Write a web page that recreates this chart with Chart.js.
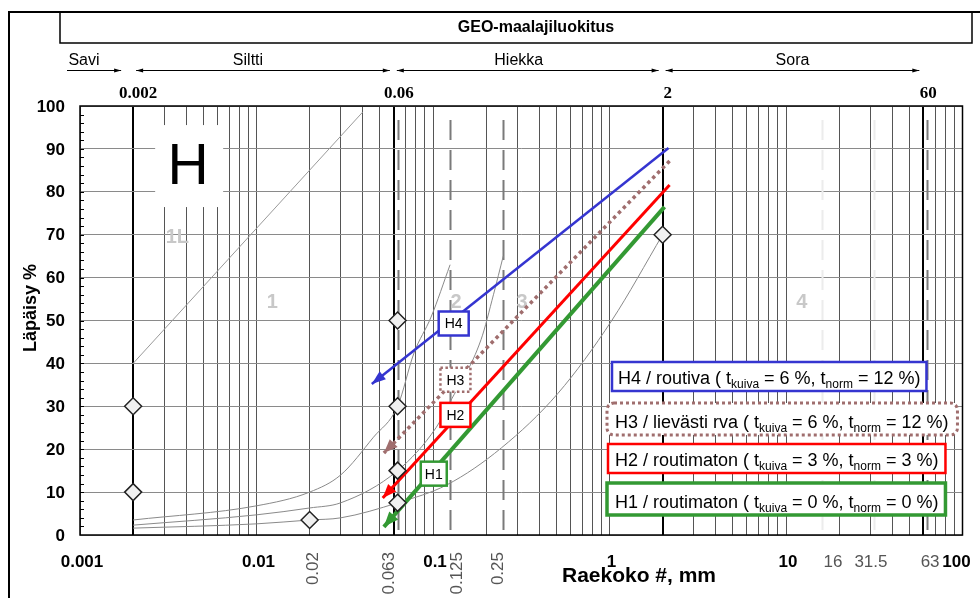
<!DOCTYPE html>
<html>
<head>
<meta charset="utf-8">
<script src="https://cdn.jsdelivr.net/npm/chart.js@4"></script>
<style>
  html, body { margin: 0; padding: 0; background: #fff; }
  canvas { display: block; }
</style>
</head>
<body>
<canvas id="chart" width="980" height="598"></canvas>
<script>
// ---- DATA ----
const decadeLabels = [0.001, 0.01, 0.1, 1, 10, 100];
const sieveLabels = [16, 31.5, 63];
const sieveRotated = [0.02, 0.063, 0.125, 0.25];
const sieveDashed = [0.063, 0.125, 0.25, 16, 31.5, 63];
const boundaryValues = [0.002, 0.06, 2, 60];
const zoneNames = ["Savi", "Siltti", "Hiekka", "Sora"];
const yTickValues = [0, 10, 20, 30, 40, 50, 60, 70, 80, 90, 100];

// thin grey boundary curves  [mm, %]
const curve1L = [[0.002, 40], [0.04, 98.6]];
const curveUpper = [[0.002, 3.5], [0.01, 6.8], [0.02, 10], [0.03, 14], [0.046, 22.8], [0.063, 30], [0.078, 42.4], [0.0975, 50.8], [0.125, 63]];
const curveMiddle = [[0.002, 2.3], [0.01, 4.7], [0.02, 6.3], [0.03, 7.5], [0.063, 15], [0.104, 25], [0.125, 31], [0.187, 45.5], [0.22, 56], [0.25, 65]];
const curveLower = [[0.002, 1.6], [0.01, 2.6], [0.02, 3.5], [0.03, 4.0], [0.063, 7.5], [0.12, 11.7], [0.244, 20.3], [0.51, 33], [1.03, 50], [2, 70]];

// diamond markers
const diamonds = [[0.002, 30], [0.002, 10], [0.02, 3.5], [0.063, 50], [0.063, 30], [0.063, 15], [0.063, 7.5], [2, 70]];

// frost class arrows (start -> tip)
const arrowH4 = [[2.16, 90.2], [0.045, 35.2]];
const arrowH3 = [[2.19, 87.2], [0.0527, 19.1]];
const arrowH2 = [[2.19, 81.6], [0.0519, 8.6]];
const arrowH1 = [[2.05, 76.5], [0.0527, 1.9]];

// small tag boxes on the arrows
const tagNames = ["H4", "H3", "H2", "H1"];
const tagX = [0.131, 0.134, 0.134, 0.101];
const tagY = [49.3, 36.2, 28.0, 14.3];

// zone numbers
const zoneMarkNames = ["1L", "1", "2", "3", "4"];
const zoneMarkX = [0.00356, 0.0123, 0.135, 0.32, 12.3];
const zoneMarkY = [69.3, 54.3, 54.3, 54.3, 54.3];

// legend rows
const legendNames = ["H4", "H3", "H2", "H1"];
const legendDesc = ["routiva", "lievästi rva", "routimaton", "routimaton"];
const legendKuiva = [6, 6, 3, 0];
const legendNorm = [12, 12, 3, 0];

// ---- STYLE ----
const FONT = '"Liberation Sans", Arial, sans-serif';
const SERIF = '"Liberation Serif", "Times New Roman", serif';
const BLUE = "#3535d0";
const BROWN = "#a06e6e";
const RED = "#ff0000";
const GREEN = "#339933";
const hColors = [BLUE, BROWN, RED, GREEN];

// grid lines at 1..9 x 10^n
const xGridValues = [];
for (let e = -3; e <= 1; e++) {
  for (let m = 1; m <= 9; m++) xGridValues.push(parseFloat((m * Math.pow(10, e)).toPrecision(6)));
}
xGridValues.push(100);

function isBoundary(v) {
  return boundaryValues.some((b) => Math.abs(b - v) < b * 1e-6);
}
function toXY(arr) {
  return arr.map((p) => ({ x: p[0], y: p[1] }));
}

function arrowHead(c, x0, y0, x1, y1, len, wid, color) {
  const a = Math.atan2(y1 - y0, x1 - x0);
  c.save();
  c.translate(x1, y1);
  c.rotate(a);
  c.beginPath();
  c.moveTo(0, 0);
  c.lineTo(-len, wid / 2);
  c.lineTo(-len, -wid / 2);
  c.closePath();
  c.fillStyle = color;
  c.fill();
  c.restore();
}

function roundRect(c, x, y, w, h, r) {
  c.beginPath();
  c.moveTo(x + r, y);
  c.lineTo(x + w - r, y);
  c.arcTo(x + w, y, x + w, y + r, r);
  c.lineTo(x + w, y + h - r);
  c.arcTo(x + w, y + h, x + w - r, y + h, r);
  c.lineTo(x + r, y + h);
  c.arcTo(x, y + h, x, y + h - r, r);
  c.lineTo(x, y + r);
  c.arcTo(x, y, x + r, y, r);
  c.closePath();
}

function legendText(c, i, x, y, doDraw) {
  const parts = [
    [legendNames[i] + " / " + legendDesc[i] + " ( t", false],
    ["kuiva", true],
    [" = " + legendKuiva[i] + " %, t", false],
    ["norm", true],
    [" = " + legendNorm[i] + " %)", false],
  ];
  let cx = x;
  parts.forEach(([t, sub]) => {
    c.font = (sub ? "12px " : "18px ") + FONT;
    if (doDraw) c.fillText(t, cx, sub ? y + 4 : y);
    cx += c.measureText(t).width;
  });
  return cx - x;
}

// ---- DECORATION PLUGIN ----
const decor = {
  id: "decor",
  beforeDraw(chart) {
    const c = chart.ctx;
    c.save();
    c.fillStyle = "#fff";
    c.fillRect(0, 0, chart.width, chart.height);
    c.restore();
  },
  beforeDatasetsDraw(chart) {
    const c = chart.ctx;
    const xs = chart.scales.x, ys = chart.scales.y;
    const area = chart.chartArea;
    c.save();

    // dashed sieve lines
    sieveDashed.forEach((v) => {
      const x = Math.round(xs.getPixelForValue(v)) + 0.5;
      c.strokeStyle = v > 10 && v < 60 ? "#ececec" : "#7a7a7a";
      c.lineWidth = 2;
      c.setLineDash([20, 10]);
      c.beginPath();
      c.moveTo(x, area.top + 14);
      c.lineTo(x, area.bottom);
      c.stroke();
    });
    c.setLineDash([]);

    // white box behind the big "H"
    const hx = xs.getPixelForValue(0.0041), hy = ys.getPixelForValue(86);
    c.fillStyle = "#fff";
    c.fillRect(hx - 33, hy - 41, 68, 82);
    c.fillStyle = "#000";
    c.font = "57px " + FONT;
    c.textAlign = "center";
    c.textBaseline = "middle";
    c.fillText("H", hx, hy + 2);

    // zone numbers
    c.font = "bold 20px " + FONT;
    c.fillStyle = "#c8c8c8";
    zoneMarkNames.forEach((t, i) => {
      c.fillText(t, xs.getPixelForValue(zoneMarkX[i]), ys.getPixelForValue(zoneMarkY[i]));
    });

    // minor ticks on the y axis
    c.strokeStyle = "#000";
    c.lineWidth = 1;
    for (let v = 2; v < 100; v += 2) {
      const y = Math.round(ys.getPixelForValue(v)) + 0.5;
      c.beginPath();
      c.moveTo(area.left, y);
      c.lineTo(area.left + 4, y);
      c.stroke();
    }
    c.restore();
  },
  afterDatasetsDraw(chart) {
    const c = chart.ctx;
    const xs = chart.scales.x, ys = chart.scales.y;
    const area = chart.chartArea;
    c.save();

    // arrow heads
    chart.data.datasets.forEach((ds, i) => {
      if (!ds.arrow) return;
      const pts = chart.getDatasetMeta(i).data;
      const a = pts[0], b = pts[pts.length - 1];
      arrowHead(c, a.x, a.y, b.x, b.y, ds.arrow[0], ds.arrow[1], ds.borderColor);
    });

    // tag boxes
    const tagW = [30, 30, 30, 26];
    tagNames.forEach((t, i) => {
      const cx = xs.getPixelForValue(tagX[i]), cy = ys.getPixelForValue(tagY[i]);
      const w = tagW[i], h = 24;
      c.fillStyle = "#fff";
      c.fillRect(cx - w / 2, cy - h / 2, w, h);
      c.strokeStyle = hColors[i];
      c.lineWidth = 2.5;
      c.setLineDash(i === 1 ? [2.5, 2.5] : []);
      c.strokeRect(cx - w / 2, cy - h / 2, w, h);
      c.setLineDash([]);
      c.fillStyle = "#000";
      c.font = "14px " + FONT;
      c.textAlign = "center";
      c.textBaseline = "middle";
      c.fillText(t, cx, cy + 1);
    });

    // legend boxes
    const boxL = [612, 607, 608, 607];
    const boxT = [362, 403, 444, 483];
    const boxH = [29, 32, 29, 32];
    const padL = [6, 8, 7, 8];
    const padR = [6, 9, 7, 7];
    const boxLW = [2.5, 3, 2.5, 3.5];
    c.textAlign = "left";
    c.textBaseline = "alphabetic";
    legendNames.forEach((n, i) => {
      const tw = legendText(c, i, 0, 0, false);
      const w = padL[i] + tw + padR[i];
      c.fillStyle = "#fff";
      c.fillRect(boxL[i], boxT[i], w, boxH[i]);
      c.strokeStyle = hColors[i];
      c.lineWidth = boxLW[i];
      if (i === 1) {
        c.setLineDash([3, 3]);
        roundRect(c, boxL[i], boxT[i], w, boxH[i], 7);
        c.stroke();
        c.setLineDash([]);
      } else {
        c.strokeRect(boxL[i], boxT[i], w, boxH[i]);
      }
      c.fillStyle = "#000";
      legendText(c, i, boxL[i] + padL[i], boxT[i] + boxH[i] - 7, true);
    });

    // plot frame
    c.strokeStyle = "#000";
    c.lineWidth = 1.5;
    c.strokeRect(area.left, area.top, area.right - area.left, area.bottom - area.top);
    c.restore();
  },
  afterDraw(chart) {
    const c = chart.ctx;
    const xs = chart.scales.x, ys = chart.scales.y;
    c.save();

    // outer frame and title box
    c.strokeStyle = "#000";
    c.lineWidth = 2;
    c.strokeRect(9, 12, 1000, 700);
    c.lineWidth = 1.5;
    c.strokeRect(60, 12, 912, 31);
    c.fillStyle = "#000";
    c.font = "bold 16px " + FONT;
    c.textAlign = "center";
    c.textBaseline = "middle";
    c.fillText("GEO-maalajiluokitus", 536, 28);

    // soil class ranges with arrows
    const arrowY = 70.5;
    const lims = [null].concat(boundaryValues);
    const nudge = [0, -15, -9, 0];
    c.lineWidth = 1;
    zoneNames.forEach((name, i) => {
      const x0 = i === 0 ? 67 : xs.getPixelForValue(lims[i]) + 3;
      const x1 = xs.getPixelForValue(lims[i + 1]) - (i === 0 ? 12 : 4);
      c.strokeStyle = "#000";
      c.beginPath();
      c.moveTo(x0, arrowY);
      c.lineTo(x1, arrowY);
      c.stroke();
      arrowHead(c, x0, arrowY, x1, arrowY, 7, 4, "#000");
      if (i > 0) arrowHead(c, x1, arrowY, x0, arrowY, 7, 4, "#000");
      c.font = "16px " + FONT;
      c.textBaseline = "alphabetic";
      c.fillStyle = "#000";
      const cx = i === 0 ? 84 : (x0 + x1) / 2 + nudge[i];
      c.fillText(name, cx, 65);
    });

    // boundary sizes
    c.font = "bold 17px " + SERIF;
    boundaryValues.forEach((v) => {
      c.fillText(String(v), xs.getPixelForValue(v) + 5, 98);
    });

    // y tick labels
    c.font = "bold 17px " + FONT;
    c.textAlign = "right";
    c.textBaseline = "middle";
    yTickValues.forEach((v) => c.fillText(String(v), 65, ys.getPixelForValue(v) + 1));

    // y title
    c.save();
    c.translate(31, 308);
    c.rotate(-Math.PI / 2);
    c.textAlign = "center";
    c.font = "bold 18px " + FONT;
    c.fillText("Läpäisy %", 0, 0);
    c.restore();

    // x decade labels
    c.textAlign = "center";
    c.textBaseline = "alphabetic";
    c.font = "bold 17px " + FONT;
    decadeLabels.forEach((v, i) => {
      const dx = i === decadeLabels.length - 1 ? -6 : 2;
      c.fillText(String(v), xs.getPixelForValue(v) + dx, 567);
    });

    // grey sieve labels
    c.fillStyle = "#555";
    c.font = "17px " + FONT;
    const sNudge = [11, -3, 3];
    sieveLabels.forEach((v, i) => c.fillText(String(v), xs.getPixelForValue(v) + sNudge[i], 567));

    const rNudge = [4, -8, 7, -5];
    sieveRotated.forEach((v, i) => {
      c.save();
      c.translate(xs.getPixelForValue(v) + rNudge[i], 552);
      c.rotate(-Math.PI / 2);
      c.textAlign = "right";
      c.textBaseline = "middle";
      c.fillText(String(v), 0, 0);
      c.restore();
    });

    // x title
    c.fillStyle = "#000";
    c.font = "bold 21px " + FONT;
    c.textAlign = "center";
    c.fillText("Raekoko #, mm", 639, 582);
    c.restore();
  },
};

// ---- CHART ----
const curveStyle = (color) => ({
  showLine: true,
  borderColor: color,
  borderWidth: 1,
  pointRadius: 0,
  cubicInterpolationMode: "monotone",
  order: 3,
});

const arrowStyle = (color, width, head) => ({
  showLine: true,
  borderColor: color,
  borderWidth: width,
  pointRadius: 0,
  arrow: head,
  order: 2,
});

new Chart(document.getElementById("chart"), {
  type: "scatter",
  data: {
    datasets: [
      { label: "diamonds", data: toXY(diamonds), pointStyle: "rectRot", pointRadius: 8.5, pointBackgroundColor: "#f0f0f0", pointBorderColor: "#222", pointBorderWidth: 1.5, showLine: false, order: 0 },
      Object.assign({ label: "1L", data: toXY(curve1L) }, curveStyle("#9a9a9a")),
      Object.assign({ label: "upper", data: toXY(curveUpper) }, curveStyle("#8a8a8a")),
      Object.assign({ label: "middle", data: toXY(curveMiddle) }, curveStyle("#8a8a8a")),
      Object.assign({ label: "lower", data: toXY(curveLower) }, curveStyle("#8a8a8a")),
      Object.assign({ label: "H4", data: toXY(arrowH4) }, arrowStyle(BLUE, 2.5, [14, 10])),
      Object.assign({ label: "H3", data: toXY(arrowH3), borderDash: [3.5, 3.5] }, arrowStyle(BROWN, 3.5, [14, 11])),
      Object.assign({ label: "H2", data: toXY(arrowH2) }, arrowStyle(RED, 3, [14, 11])),
      Object.assign({ label: "H1", data: toXY(arrowH1) }, arrowStyle(GREEN, 4, [15, 12])),
    ],
  },
  options: {
    responsive: false,
    animation: false,
    layout: { padding: { left: 80, right: 17.5, top: 106, bottom: 63 } },
    plugins: { legend: { display: false }, tooltip: { enabled: false } },
    scales: {
      x: {
        type: "logarithmic",
        min: 0.001,
        max: 100,
        afterBuildTicks: (scale) => {
          scale.ticks = xGridValues.map((v) => ({ value: v }));
        },
        ticks: { display: false },
        border: { display: false },
        grid: {
          drawTicks: false,
          color: (ctx) => (ctx.tick && isBoundary(ctx.tick.value) ? "#000" : "#555"),
          lineWidth: (ctx) => (ctx.tick && isBoundary(ctx.tick.value) ? 2 : 1),
        },
      },
      y: {
        min: 0,
        max: 100,
        ticks: { display: false, stepSize: 10 },
        border: { display: false },
        grid: { drawTicks: false, color: "#8a8a8a", lineWidth: 1 },
      },
    },
  },
  plugins: [decor],
});
</script>
</body>
</html>
